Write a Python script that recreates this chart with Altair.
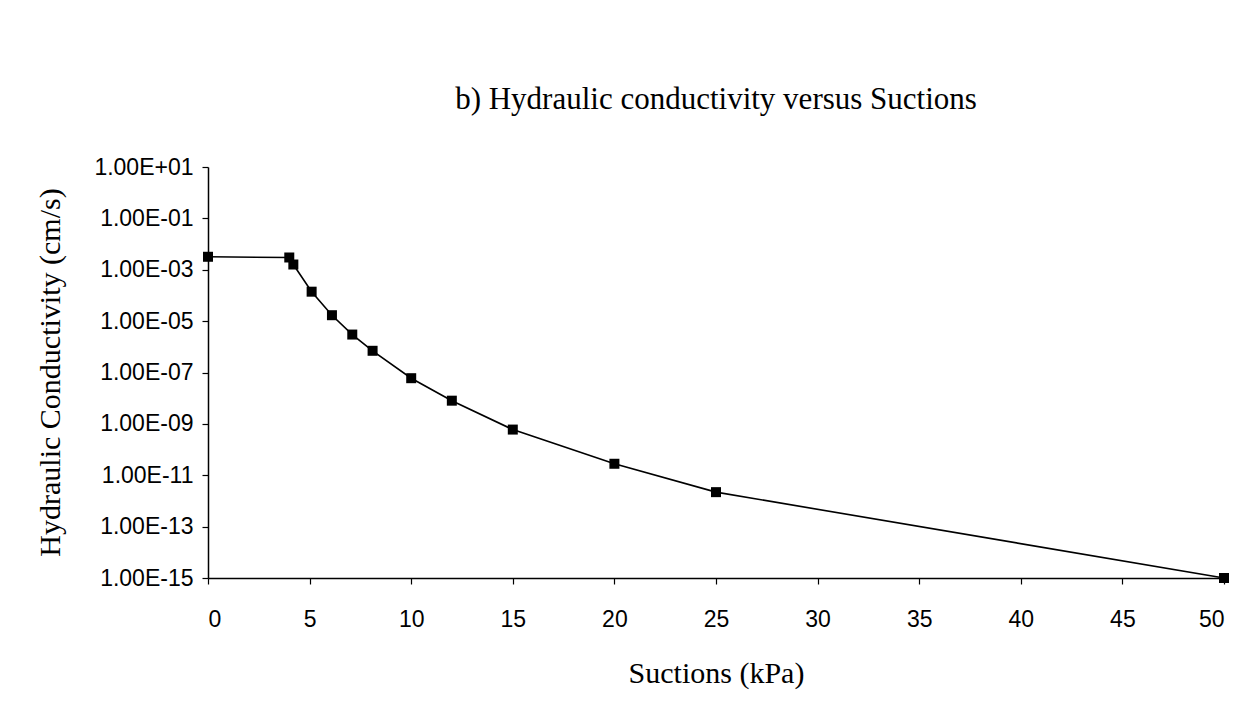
import altair as alt
import pandas as pd

# Data
suction_kpa = [0, 4, 4.2, 5.1, 6.1, 7.1, 8.1, 10, 12, 15, 20, 25, 50]
conductivity = [3.2e-3, 3.0e-3, 1.6e-3, 1.4e-4, 1.7e-5, 3.0e-6, 7.0e-7,
                6.0e-8, 8.0e-9, 6.0e-10, 2.8e-11, 2.2e-12, 1.0e-15]

x_ticks = [0, 5, 10, 15, 20, 25, 30, 35, 40, 45, 50]
y_ticks = [1e-15, 1e-13, 1e-11, 1e-9, 1e-7, 1e-5, 1e-3, 1e-1, 1e1]
y_tick_labels = ["1.00E-15", "1.00E-13", "1.00E-11", "1.00E-09", "1.00E-07",
                 "1.00E-05", "1.00E-03", "1.00E-01", "1.00E+01"]

df = pd.DataFrame({"s": suction_kpa, "k": conductivity})

label_arr = "[" + ",".join("'" + t + "'" for t in y_tick_labels) + "]"
y_label_expr = label_arr + "[round((round(log(datum.value)/LN10)+15)/2)]"

SERIF = "Liberation Serif"
SANS = "Liberation Sans"

x_enc = alt.X(
    "s:Q",
    scale=alt.Scale(domain=[0, 50], nice=False, zero=False),
    axis=alt.Axis(
        title="Suctions (kPa)",
        values=x_ticks,
        grid=False,
        domainColor="black", domainWidth=1.5,
        tickColor="black", tickWidth=1.2, tickSize=6,
        labelFont=SANS, labelFontSize=23, labelColor="black", labelPadding=24,
        titleFont=SERIF, titleFontSize=30, titleFontWeight="normal", titleColor="black",
        titleX=508, titleY=95, titleBaseline="middle", titleAlign="center",
    ),
)
y_enc = alt.Y(
    "k:Q",
    scale=alt.Scale(type="log", domain=[1e-15, 1e1], nice=False),
    axis=alt.Axis(
        title="Hydraulic Conductivity (cm/s)",
        values=y_ticks,
        labelExpr=y_label_expr,
        grid=False,
        domainColor="black", domainWidth=1.5,
        tickColor="black", tickWidth=1.2, tickSize=6,
        labelFont=SANS, labelFontSize=23, labelColor="black", labelPadding=9,
        titleFont=SERIF, titleFontSize=30, titleFontWeight="normal", titleColor="black",
        titleX=-158, titleY=205, titleAngle=270, titleBaseline="middle", titleAlign="center",
    ),
)

base = alt.Chart(df).encode(x=x_enc, y=y_enc)
line = base.mark_line(color="black", strokeWidth=1.6)
pts = base.mark_point(shape="square", filled=True, size=100, color="black", opacity=1)

chart = (
    (line + pts)
    .properties(
        width=1016,
        height=411,
        background="white",
        autosize=alt.AutoSizeParams(type="none"),
        padding={"left": 200, "top": 159, "right": 22, "bottom": 120},
        title=alt.TitleParams(
            "b) Hydraulic conductivity versus Suctions",
            font=SERIF, fontSize=31, fontWeight="normal", color="black",
            anchor="middle", baseline="alphabetic", offset=16,
        ),
    )
    .configure_view(stroke="transparent", strokeWidth=0)
)

chart.save("out.html", embed_options={"renderer": "svg", "actions": False})
